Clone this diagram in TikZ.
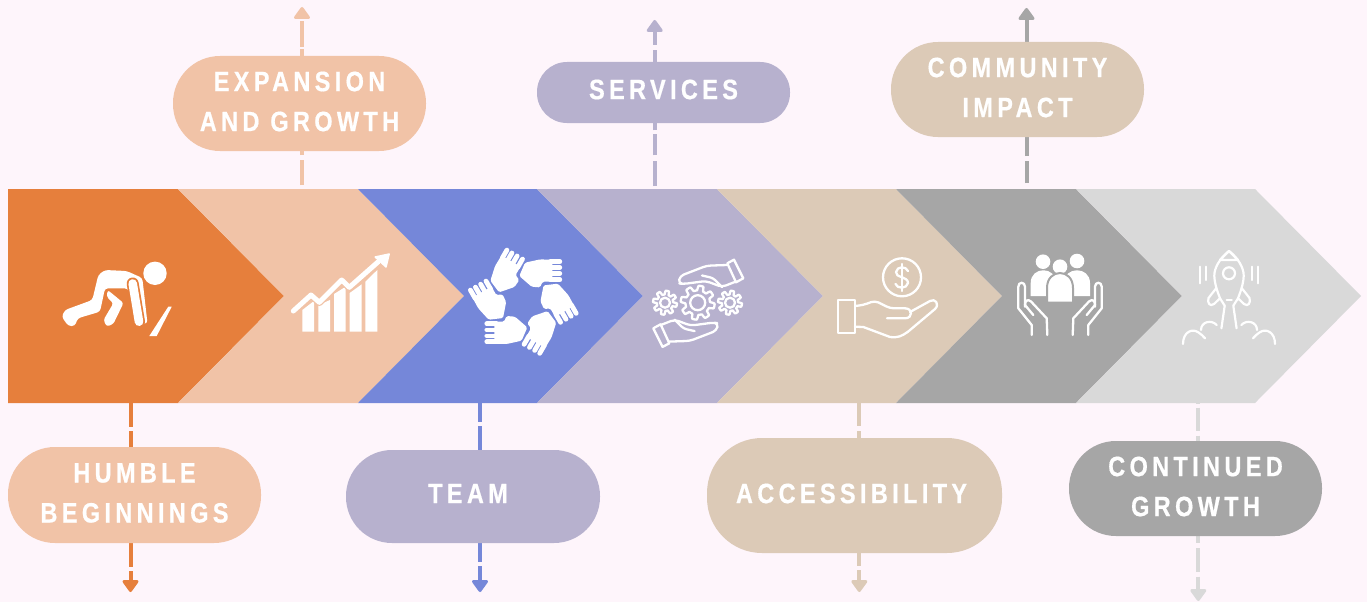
\documentclass[tikz,border=0pt]{standalone}
\usepackage{fontspec}
\setmainfont{Liberation Sans}
\newfontfamily\labfont[FakeStretch=0.84,LetterSpace=15.5,BoldFont={Liberation Sans Bold},BoldFeatures={FakeBold=0.6}]{Liberation Sans}
\definecolor{bgc}{HTML}{FEF5FB}
\definecolor{orangec}{HTML}{E67F3C}
\definecolor{peachc}{HTML}{F1C3A7}
\definecolor{bluec}{HTML}{7587D9}
\definecolor{lavc}{HTML}{B7B1CE}
\definecolor{tanc}{HTML}{DCCAB7}
\definecolor{grayc}{HTML}{A6A6A6}
\definecolor{lightc}{HTML}{D9D9D9}
\tikzset{
  pill/.style={inner sep=0pt},
  pilltext/.style={inner sep=0pt,text=white,align=center,font=\labfont\bfseries\fontsize{28pt}{40pt}\selectfont},
  conn/.style={line width=4pt},
  headup/.style={line width=3pt,line join=round},
  icon/.style={draw=white,line width=2.3pt,line cap=round,line join=round},
  thin icon/.style={draw=white,line width=2.2pt,line cap=round,line join=round},
}
\newcommand{\tipup}[2]{\filldraw[headup,draw=#2,fill=#2] (#1)++(0,1.5) -- ++(-6.5,9) -- ++(13,0) -- cycle;}
\newcommand{\tipdown}[2]{\filldraw[headup,draw=#2,fill=#2] (#1)++(0,-1.5) -- ++(-6.5,-9) -- ++(13,0) -- cycle;}
\begin{document}
\begin{tikzpicture}[x=1pt,y=-1pt]
\useasboundingbox (0,0) rectangle (1367,602);
\fill[bgc] (0,0) rectangle (1367,602);
% chevrons
\fill[orangec] (8,189) -- (178,189) -- (284,296) -- (178,403) -- (8,403) -- cycle;
\fill[peachc] (178,189) -- (358,189) -- (464,296) -- (358,403) -- (178,403) -- (284,296) -- cycle;
\fill[bluec] (358,189) -- (537,189) -- (643,296) -- (537,403) -- (358,403) -- (464,296) -- cycle;
\fill[lavc] (537,189) -- (717,189) -- (823,296) -- (717,403) -- (537,403) -- (643,296) -- cycle;
\fill[tanc] (717,189) -- (896,189) -- (1002,296) -- (896,403) -- (717,403) -- (823,296) -- cycle;
\fill[grayc] (896,189) -- (1076,189) -- (1182,296) -- (1076,403) -- (896,403) -- (1002,296) -- cycle;
\fill[lightc] (1076,189) -- (1255,189) -- (1361,296) -- (1255,403) -- (1076,403) -- (1182,296) -- cycle;
% connector anchors
\coordinate (s1) at (130.5,403); \coordinate (t1) at (130.5,580);
\coordinate (s2) at (302,185);   \coordinate (t2) at (302,21);
\coordinate (s3) at (480,403);   \coordinate (t3) at (480,580);
\coordinate (s4) at (654.7,186); \coordinate (t4) at (654.7,32);
\coordinate (s5) at (859.3,403); \coordinate (t5) at (859.3,580);
\coordinate (s6) at (1026.5,188);\coordinate (t6) at (1026.5,19);
\coordinate (s7) at (1198.3,403);\coordinate (t7) at (1198.3,589);
% connectors
\draw[conn,orangec,dash pattern=on 23.5pt off 4.5pt on 100pt] (s1) -- (s1 |- 0,447);
\draw[conn,orangec,dash pattern=on 23.5pt off 4.5pt on 100pt] (s1 |- 0,543) -- (t1);
\draw[conn,peachc,dash pattern=on 25pt off 5pt on 100pt] (s2) -- (s2 |- 0,151);
\draw[conn,peachc,dash pattern=on 7pt off 2pt on 100pt] (s2 |- 0,56) -- (t2);
\draw[conn,bluec,dash pattern=on 19pt off 4pt on 100pt] (s3) -- (s3 |- 0,450);
\draw[conn,bluec,dash pattern=on 18.7pt off 4.3pt on 100pt] (s3 |- 0,543) -- (t3);
\draw[conn,lavc,dash pattern=on 24.7pt off 6pt on 21pt off 4pt on 100pt] (s4) -- (s4 |- 0,123);
\draw[conn,lavc,dash pattern=on 12.3pt off 4.7pt on 100pt] (s4 |- 0,62) -- (t4);
\draw[conn,tanc,dash pattern=on 23pt off 5pt on 100pt] (s5) -- (s5 |- 0,438);
\draw[conn,tanc,dash pattern=on 13pt off 4pt on 100pt] (s5 |- 0,553) -- (t5);
\draw[conn,grayc,dash pattern=on 0pt off 5pt on 22pt off 5pt on 100pt] (s6) -- (s6 |- 0,137);
\draw[conn,grayc] (s6 |- 0,42) -- (t6);
\draw[conn,lightc,dash pattern=on 0.5pt off 4pt on 23.5pt off 4.7pt on 100pt] (s7) -- (s7 |- 0,441);
\draw[conn,lightc,dash pattern=on 7pt off 5pt on 23.7pt off 5pt on 100pt] (s7 |- 0,536) -- (t7);
\tipdown{130.5,592}{orangec}
\tipup{302,7}{peachc}
\tipdown{480,592}{bluec}
\tipup{654.7,20}{lavc}
\tipdown{859.3,592}{tanc}
\tipup{1026.5,8}{grayc}
\tipdown{1198.3,601}{lightc}
% pills
\node[pill,fill=peachc,minimum width=253pt,minimum height=96pt,rounded corners=47pt] (p1) at (134.5,495) {};
\node[pill,fill=peachc,minimum width=253pt,minimum height=95pt,rounded corners=47pt] (p2) at (299.5,103.5) {};
\node[pill,fill=lavc,minimum width=254pt,minimum height=93pt,rounded corners=46pt] (p3) at (473,496.5) {};
\node[pill,fill=lavc,minimum width=253pt,minimum height=61pt,rounded corners=30pt] (p4) at (663.5,92.5) {};
\node[pill,fill=tanc,minimum width=295pt,minimum height=115pt,rounded corners=55pt] (p5) at (854.5,495.5) {};
\node[pill,fill=tanc,minimum width=253pt,minimum height=95pt,rounded corners=47pt] (p6) at (1017.5,89.5) {};
\node[pill,fill=grayc,minimum width=253pt,minimum height=95pt,rounded corners=47pt] (p7) at (1195.5,488.5) {};
% labels
\node[pilltext] (l1) at (134.5,493) {HUMBLE\\BEGINNINGS};
\node[pilltext] (l2) at (299.5,101.5) {EXPANSION\\AND GROWTH};
\node[pilltext] (l3) at (468,493.5) {TEAM};
\node[pilltext] (l4) at (663.5,89.5) {SERVICES};
\node[pilltext] (l5) at (851.5,493.5) {ACCESSIBILITY};
\node[pilltext] (l6) at (1017.5,87.5) {COMMUNITY\\IMPACT};
\node[pilltext] (l7) at (1195.5,486.5) {CONTINUED\\GROWTH};
% --- runner
\fill[white] (155,273.3) circle (11.7);
\fill[white,rounded corners=3pt] (98.3,275) -- (105,270) -- (126.7,271) -- (142.3,278) -- (147.5,323.5) -- (141,324) -- (128,288.5) -- (105,288.3) -- (100,311.7) -- (77.7,318.3) -- (75,326) -- (68.3,326) -- (61.7,316.7) -- (65,310) -- (92.3,300) -- cycle;
\fill[white,rounded corners=2.5pt] (107.7,290) -- (123.5,303) -- (113.3,324) -- (106.7,326.5) -- (103.5,320) -- (113.3,303.3) -- (106.7,296.7) -- cycle;
\draw[orangec,line width=12pt,line cap=round] (132.7,283.5) -- (139,321.7);
\draw[white,line width=8.6pt,line cap=round] (132.7,283.5) -- (139,321.7);
\fill[white] (168.3,306.7) -- (171.7,306.7) -- (156.7,336) -- (149.3,336) -- cycle;
% --- chart
\fill[white] (302.3,331.7) -- (302.3,310) -- (314,301) -- (314,331.7) -- cycle;
\fill[white] (318.3,331.7) -- (318.3,305) -- (330,300) -- (330,331.7) -- cycle;
\fill[white] (334,331.7) -- (334,294) -- (345.7,286.7) -- (345.7,331.7) -- cycle;
\fill[white] (349.7,331.7) -- (349.7,293) -- (361.7,284.3) -- (361.7,331.7) -- cycle;
\fill[white] (365.3,331.7) -- (365.3,281.7) -- (377.3,270) -- (377.3,331.7) -- cycle;
\draw[peachc,line width=7.5pt,line join=round] (293.3,311) -- (311,295) -- (319.3,302.3) -- (341.7,280) -- (349.3,287.3) -- (378.3,261.7);
\draw[white,line width=5pt,line cap=round,line join=round] (293.3,311) -- (311,295) -- (319.3,302.3) -- (341.7,280) -- (349.3,287.3) -- (378.3,261.7);
\filldraw[white,line width=1.5pt,line join=round] (389.2,254) -- (375.2,257) -- (386,267) -- cycle;
% --- six hands in a ring
\foreach \a in {0,-60,-120,-180,-240,-300}{
\begin{scope}[shift={(523.3,301.7)},rotate=\a]
\fill[white,rounded corners=1.5pt] (1.7,-39) -- (16.7,-42.3) -- (29,-42) -- (29,-20) -- (19.3,-20) -- (16.7,-14.3) -- (8.3,-15) -- (-4,-25.7) -- cycle;
\foreach \y in {-40,-34.2,-28.2,-22}{\draw[white,line width=4.8pt,line cap=round] (27,\y) -- (36.5,\y);}
\end{scope}}
% --- gears and shaking hands
\foreach \a in {0,180}{
\begin{scope}[shift={(698.3,303.3)},rotate=\a]
\draw[icon] (29,-40) -- (35.7,-43.6) -- (45,-25) -- (37.7,-21) -- cycle;
\draw[icon,rounded corners=4pt] (29,-38.3) -- (8.4,-37.6) -- (-18.3,-27.3) -- (-20,-20) -- (-15,-19.3) -- (7.7,-22.3) -- (23.7,-16.3) -- (37.7,-21.8);
\draw[icon,rounded corners=3pt] (3.7,-27.8) -- (14.7,-25.3) -- (23.7,-16.3);
\end{scope}}
\draw[icon] plot[domain=0:360,samples=145] ({697.7+17*(0.86+0.14*max(-1,min(1,2.5*sin(8*\x))))*cos(\x)},{302.7+17*(0.86+0.14*max(-1,min(1,2.5*sin(8*\x))))*sin(\x)}) -- cycle;
\draw[icon] (697.7,302.7) circle (7.5);
\foreach \cx in {665,730}{
\draw[icon] plot[domain=0:360,samples=145] ({\cx+12*(0.84+0.16*max(-1,min(1,2.5*sin(8*\x))))*cos(\x)},{302.7+12*(0.84+0.16*max(-1,min(1,2.5*sin(8*\x))))*sin(\x)}) -- cycle;
\draw[icon] (\cx,302.7) circle (5);}
% --- money hand
\draw[icon] (902,277.3) circle (19);
\draw[icon] (908,271) .. controls (906,266) and (897,266) .. (896,272) .. controls (895,278) and (908,276) .. (908,283) .. controls (907,289) and (897,289) .. (895.5,284);
\draw[icon] (902,264) -- (902,291);
\draw[icon] (838.3,300) rectangle (855,332.7);
\draw[icon,rounded corners=4pt] (855,306) -- (863.3,305) -- (875,300.7) -- (890,308.3) -- (905,308.3);
\draw[icon] (905,308.3) .. controls (913,308.3) and (913,318.3) .. (905,318.3) -- (887,318.3);
\draw[icon] (910,312) -- (930,301) .. controls (935,298) and (940,304) .. (935,309) -- (908,331.7) .. controls (902,336) and (898,338) .. (890,337) -- (863.3,327) -- (855,326.7);
% --- people in hands
\fill[white] (1043,261.7) circle (7.3) (1077,261) circle (7.3) (1060,266.7) circle (7.3);
\fill[white] (1030.7,296) -- (1030.7,283) .. controls (1030.7,266) and (1056,266) .. (1056,283) -- (1056,296) -- cycle;
\fill[white] (1064,296) -- (1064,283) .. controls (1064,266) and (1090,266) .. (1090,283) -- (1090,296) -- cycle;
\filldraw[white,draw=grayc,line width=2pt] (1047,302.5) -- (1047,288) .. controls (1047,268) and (1073,268) .. (1073,288) -- (1073,302.5) -- cycle;
\foreach \m in {1,-1}{
\begin{scope}[shift={(1060,0)},xscale=\m]
\draw[icon] (-28.3,335) -- (-28.3,325) -- (-41.7,308.3) -- (-41.7,286.7) .. controls (-41.7,281.5) and (-35,281.5) .. (-35,286.7) -- (-35,306.7);
\draw[icon] (-26.7,315) -- (-35,305) .. controls (-35,300) and (-32,299) .. (-29,301.5) -- (-13.3,318.3) -- (-12.7,335);
\end{scope}}
% --- rocket
\foreach \m in {1,-1}{
\begin{scope}[shift={(1229,0)},xscale=\m]
\draw[thin icon] (0,251) .. controls (-9,258) and (-15,268) .. (-14.7,276) .. controls (-14.5,282) and (-13,288) .. (-9,298.3) -- (-4.3,305.7) -- (-7.6,328.3);
\draw[thin icon] (0,251) -- (-9,260) -- (0,260);
\draw[thin icon] (-12.6,288) -- (-20.5,298) .. controls (-22,303) and (-19,307) .. (-15,304) -- (-9,298.3);
\draw[thin icon] (-46,344) .. controls (-46,332) and (-37,328) .. (-30.7,332.3) .. controls (-28,334) and (-26,336) .. (-24,338.3) (-28,330) .. controls (-28,322) and (-18,319) .. (-12.3,325);
\draw[thin icon] (-29.3,266.7) -- (-29.3,283.3) (-23,266.7) -- (-23,280);
\end{scope}}
\draw[thin icon] (1229,273.3) circle (6);
\draw[thin icon] (1226.7,300) -- (1231.7,300);
\end{tikzpicture}
\end{document}
